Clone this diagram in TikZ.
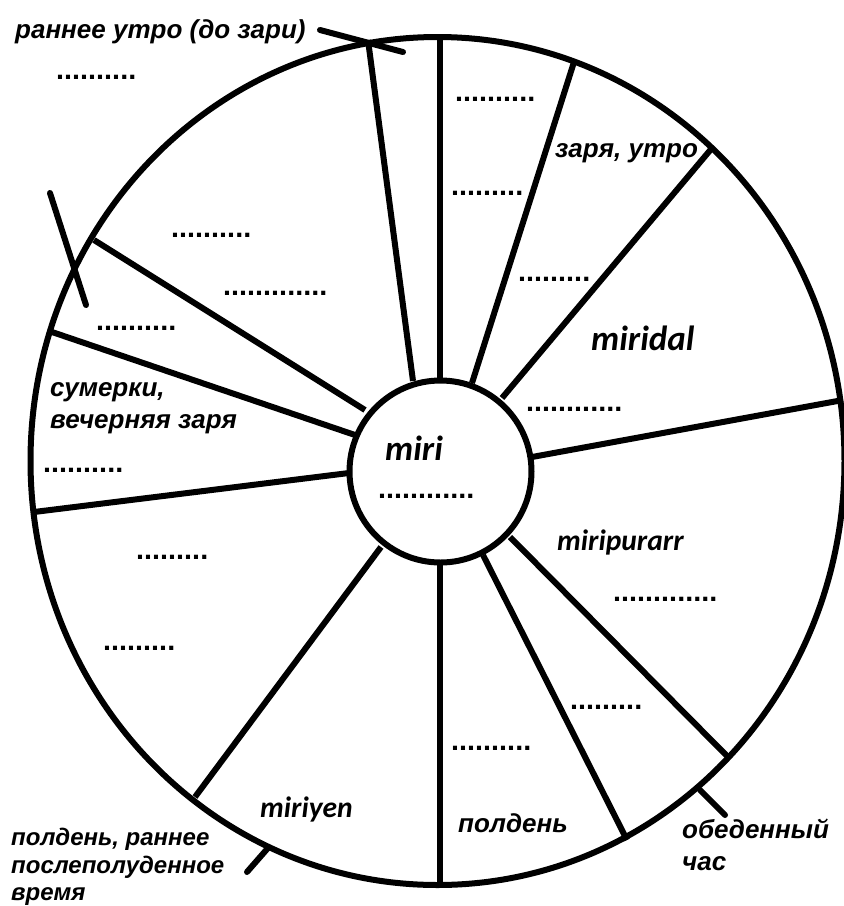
\documentclass[tikz,border=0pt]{standalone}
\usepackage{fontspec}
\setmainfont{Liberation Sans}
\newfontfamily\latfont{Carlito}
\begin{document}
\begin{tikzpicture}[x=1pt,y=-1pt,
  spoke/.style={line width=6pt},
  tickline/.style={line width=6pt, line cap=round},
  lbl/.style={font=\fontsize{26}{30}\selectfont\bfseries\itshape, inner sep=0pt, anchor=base west},
  lblsmall/.style={font=\fontsize{24}{28}\selectfont\bfseries\itshape, inner sep=0pt, anchor=base west},
  latbig/.style={font=\latfont\fontsize{35}{38}\selectfont\bfseries\itshape, inner sep=0pt, anchor=base west},
  latsmall/.style={font=\latfont\fontsize{29.5}{32}\selectfont\bfseries\itshape, inner sep=0pt, anchor=base west},
  dotrow/.style={font=\fontsize{28.8}{30}\selectfont\bfseries, inner sep=0pt, anchor=base west}]
\useasboundingbox (0,0) rectangle (844,906);
% spoke end points
\coordinate (i1) at (440,380);  \coordinate (o1) at (440,37);
\coordinate (i2) at (413,381);  \coordinate (o2) at (368,40);
\coordinate (i3) at (472,383);  \coordinate (o3) at (574,62);
\coordinate (i4) at (502,398);  \coordinate (o4) at (712,148);
\coordinate (i5) at (532,457);  \coordinate (o5) at (843,400);
\coordinate (i6) at (510,537);  \coordinate (o6) at (729,758);
\coordinate (i7) at (483,555);  \coordinate (o7) at (627,840);
\coordinate (i8) at (440,563);  \coordinate (o8) at (440,885);
\coordinate (i9) at (381,547);  \coordinate (o9) at (195,797);
\coordinate (i10) at (349,473); \coordinate (o10) at (34,512);
\coordinate (i11) at (355,435); \coordinate (o11) at (52,332);
\coordinate (i12) at (365,410); \coordinate (o12) at (94,240);
\foreach \k in {1,...,12} { \draw[spoke] (i\k) -- (o\k); }
% outer rim
\coordinate (oc) at (437.5,461);
\draw[line width=6pt] (oc) ellipse [x radius=407, y radius=424];
% pointer ticks
\coordinate (ta) at (320,30);  \coordinate (tb) at (403,52);
\coordinate (tc) at (50,193);  \coordinate (td) at (86,305);
\coordinate (te) at (268,848); \coordinate (tf) at (247,872);
\coordinate (tg) at (700,790); \coordinate (th) at (725,815);
\draw[tickline] (ta) -- (tb);
\draw[tickline] (tc) -- (td);
\draw[tickline] (te) -- (tf);
\draw[tickline] (tg) -- (th);
% hub
\node[draw, circle, line width=6pt, fill=white, minimum size=182pt, inner sep=0pt] (hub) at (440.5,471.5) {};
% labels
\node[lbl] (t1) at (15,38) {раннее утро (до зари)};
\node[lbl] (t2) at (555,157) {заря, утро};
\node[latbig] (t3) at (591,350) {miridal};
\node[lbl] (t4) at (50,396) {сумерки,};
\node[lbl] (t5) at (50,428) {вечерняя заря};
\node[latbig] (t6) at (385,460) {miri};
\node[latsmall] (t7) at (557,550) {miripurarr};
\node[lbl] (t8) at (458,832) {полдень};
\node[lbl] (t9) at (682,838) {обеденный};
\node[lbl] (t10) at (682,870) {час};
\node[latsmall] (t11) at (260,817) {miriyen};
\node[lblsmall] (t12) at (11,845) {полдень, раннее};
\node[lblsmall] (t13) at (11,873) {послеполуденное};
\node[lblsmall] (t14) at (11,900) {время};
% dotted placeholders
\node[dotrow] (d1) at (56,79) {..........};
\node[dotrow] (d2) at (455,101) {..........};
\node[dotrow] (d3) at (451,195) {.........};
\node[dotrow] (d4) at (518,281) {.........};
\node[dotrow] (d5) at (526,411) {............};
\node[dotrow] (d6) at (171,237) {..........};
\node[dotrow] (d7) at (223,295) {.............};
\node[dotrow] (d8) at (96,330) {..........};
\node[dotrow] (d9) at (43,472) {..........};
\node[dotrow] (d10) at (378,498) {............};
\node[dotrow] (d11) at (136,559) {.........};
\node[dotrow] (d12) at (103,650) {.........};
\node[dotrow] (d13) at (613,601) {.............};
\node[dotrow] (d14) at (570,709) {.........};
\node[dotrow] (d15) at (451,750) {..........};
\end{tikzpicture}
\end{document}
